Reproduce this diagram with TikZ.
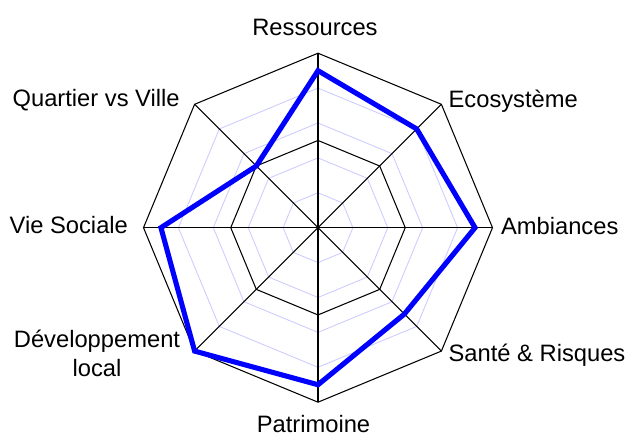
\documentclass[tikz,border=0pt]{standalone}
\usepackage{fontspec}
\setmainfont{Liberation Sans}
\begin{document}
\begin{tikzpicture}[scale=1,line join=miter,
    grid/.style={blue!20,line width=0.5pt},
    rim/.style={black,line width=0.6pt},
    lbl/.style={inner sep=0pt,font=\fontsize{13.5}{16.4}\selectfont}]
  \useasboundingbox (-6.36,-4.146) rectangle (6.22,4.554);
  % light rings
  \foreach \r in {0.2,0.4,0.6,0.8}
    \draw[grid] (90:{3.49*\r}) \foreach \a in {45,0,...,-225} {-- (\a:{3.49*\r})} -- cycle;
  % black rings and axes
  \foreach \r in {0.5,1}
    \draw[rim] (90:{3.49*\r}) \foreach \a in {45,0,...,-225} {-- (\a:{3.49*\r})} -- cycle;
  \foreach \a in {0,45,...,315}
    \draw[rim] (0,0) -- (\a:3.49);
  % values
  \draw[blue,line width=2.9pt] (90:{3.49*0.9}) -- (45:{3.49*0.8}) -- (0:{3.49*0.9})
    -- (-45:{3.49*0.7}) -- (-90:{3.49*0.9}) -- (-135:{3.49*1.0})
    -- (180:{3.49*0.9}) -- (135:{3.49*0.5}) -- cycle;
  % labels
  \node[lbl,anchor=base]  at (-0.06,3.834) (ress) {Ressources};
  \node[lbl,anchor=base west]  at (2.606,2.4) (eco) {Ecosystème};
  \node[lbl,anchor=base west]  at (3.654,-0.146) (amb) {Ambiances};
  \node[lbl,anchor=base west]  at (2.606,-2.68) (sante) {Santé \& Risques};
  \node[lbl,anchor=base]  at (-0.09,-4.09) (patri) {Patrimoine};
  \node[lbl,align=center]  at (-4.42,-2.516) (dev) {Développement\\local};
  \node[lbl,anchor=base east]  at (-3.794,-0.126) (vie) {Vie Sociale};
  \node[lbl,anchor=base east]  at (-2.76,2.42) (quart) {Quartier vs Ville};
\end{tikzpicture}
\end{document}
